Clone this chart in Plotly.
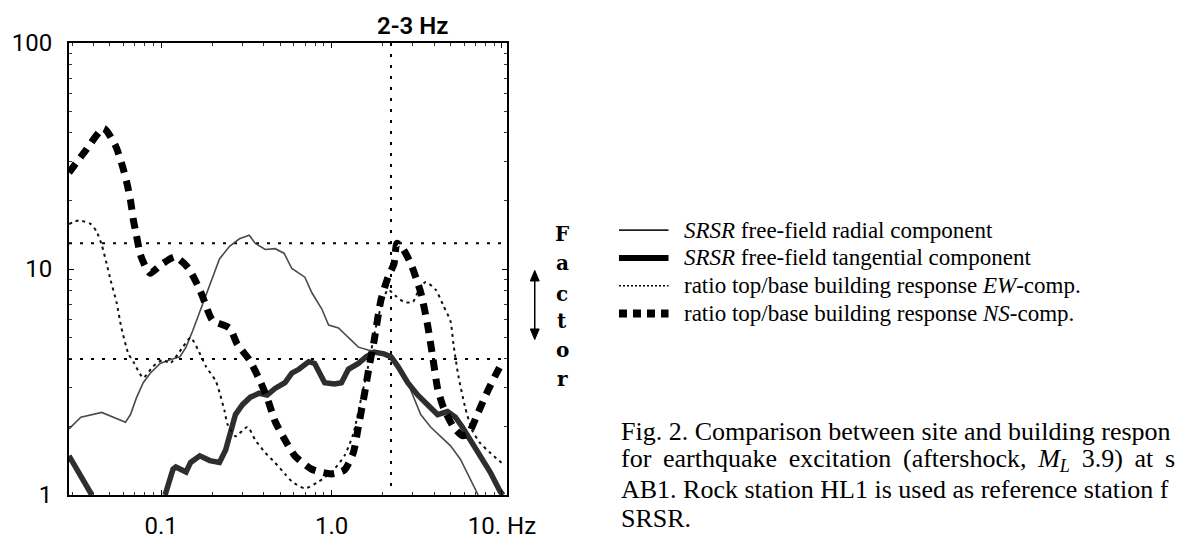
import math
import plotly.graph_objects as go

# Frequency (Hz) / amplitude pairs for the four spectral curves
ns_freq = [0.0288, 0.0361, 0.046, 0.054, 0.0585, 0.0626, 0.0661, 0.0687, 0.0716, 0.0755,
           0.0818, 0.0863, 0.100, 0.1206, 0.1436, 0.1686, 0.180, 0.200, 0.252, 0.280,
           0.329, 0.376, 0.419, 0.466, 0.533, 0.609, 0.765, 1.0, 1.19, 1.342,
           1.436, 1.556, 1.663, 1.778, 1.953, 2.145, 2.324, 2.42, 2.62, 2.918,
           3.336, 3.66, 3.92, 4.19, 4.54, 5.19, 5.85, 6.35, 7.16, 8.18, 9.1, 10.14]
ns_amp = [26.7, 33.5, 41.9, 35.1, 29.5, 24.5, 20.1, 16.5, 14.1, 11.6,
          10.05, 9.57, 10.45, 11.3, 10.15, 8.1, 7.14, 5.93, 5.48, 4.64,
          3.97, 3.26, 2.69, 2.12, 1.75, 1.49, 1.30, 1.24, 1.29, 1.54,
          2.00, 2.77, 3.71, 4.83, 7.35, 9.2, 10.55, 13.0, 12.3, 10.55,
          7.87, 5.65, 4.09, 2.96, 2.43, 2.00, 1.83, 1.87, 2.27, 2.85, 3.36, 3.93]

ew_freq = [0.0288, 0.0329, 0.0387, 0.0419, 0.0448, 0.0479, 0.0505, 0.0547, 0.0585, 0.0643,
           0.0687, 0.0785, 0.0898, 0.1027, 0.1128, 0.134, 0.149, 0.164, 0.183, 0.209,
           0.220, 0.236, 0.245, 0.273, 0.321, 0.357, 0.408, 0.466, 0.533, 0.585,
           0.697, 0.84, 1.0, 1.19, 1.342, 1.494, 1.64, 1.83, 2.01, 2.145,
           2.39, 2.66, 3.0, 3.25, 3.57, 4.08, 4.54, 4.99, 5.19, 5.55,
           6.09, 6.69, 7.45, 8.52, 10.14]
ew_amp = [15.8, 16.4, 15.8, 14.6, 12.8, 10.55, 8.94, 7.14, 5.48, 4.21,
          3.89, 3.30, 3.71, 3.97, 3.82, 4.51, 4.97, 4.42, 3.71, 3.20,
          2.85, 2.34, 2.06, 1.82, 2.00, 1.75, 1.54, 1.39, 1.24, 1.147,
          1.07, 1.147, 1.264, 1.49, 1.87, 2.69, 3.71, 5.65, 7.35, 8.1,
          7.57, 7.14, 7.14, 8.1, 8.76, 8.1, 6.86, 5.87, 4.64, 3.36,
          2.43, 1.93, 1.696, 1.538, 1.37]

radial_freq = [0.0288, 0.0338, 0.0448, 0.0526, 0.0618, 0.0661, 0.0716, 0.0785, 0.0863, 0.0987,
               0.1128, 0.129, 0.140, 0.153, 0.1686, 0.183, 0.200, 0.220, 0.252, 0.288,
               0.329, 0.357, 0.408, 0.466, 0.526, 0.585, 0.697, 0.765, 0.875, 0.961,
               1.098, 1.255, 1.436, 1.64, 1.876, 2.233, 2.553, 2.84, 3.12, 3.336,
               3.81, 4.36, 4.99, 5.7, 6.52, 7.25]
radial_amp = [1.96, 2.21, 2.32, 2.21, 2.10, 2.27, 2.69, 3.14, 3.46, 3.82,
              3.97, 4.09, 4.51, 5.32, 6.47, 7.57, 9.2, 11.08, 12.6, 13.6,
              14.1, 12.97, 12.2, 12.3, 11.75, 10.05, 9.2, 7.87, 6.67, 5.65,
              5.48, 4.97, 4.51, 4.38, 4.29, 4.0, 3.53, 3.05, 2.58, 2.27,
              2.00, 1.82, 1.65, 1.44, 1.18, 1.0]

tangential_freq = [0.0288, 0.0334, 0.0392, None, 0.1055, 0.1174, 0.122, 0.140, 0.149, 0.1686,
                   0.193, 0.220, 0.239, 0.255, 0.273, 0.300, 0.334, 0.376, 0.419, 0.466,
                   0.533, 0.585, 0.643, 0.735, 0.796, 0.911, 1.04, 1.143, 1.255, 1.436,
                   1.597, 1.778, 2.03, 2.233, 2.45, 2.80, 3.20, 3.66, 4.19, 4.79,
                   5.33, 5.85, 6.52, 7.45, 8.52, 9.74, 10.14]
tangential_amp = [1.49, 1.23, 1.0, None, 1.0, 1.30, 1.33, 1.264, 1.394, 1.49,
                  1.42, 1.394, 1.58, 1.93, 2.27, 2.51, 2.71, 2.82, 2.77, 2.96,
                  3.14, 3.46, 3.60, 3.89, 3.82, 3.14, 3.10, 3.14, 3.60, 3.82,
                  4.09, 4.29, 4.21, 4.09, 3.71, 3.14, 2.77, 2.51, 2.27, 2.34,
                  2.21, 2.00, 1.75, 1.49, 1.264, 1.04, 1.0]

# Reference levels and band marker
factor_levels = [13, 4]
band_freq = 2.233

x_ticks = [0.1, 1, 10]
x_tick_text = ["0.1", "1.0", "10. Hz"]
y_ticks = [1, 10, 100]
y_tick_text = ["1", "10", "100"]
x_minor = [0.03, 0.04, 0.05, 0.06, 0.07, 0.08, 0.09, 0.2, 0.3, 0.4, 0.5, 0.6, 0.7, 0.8, 0.9,
           2, 3, 4, 5, 6, 7, 8, 9]
y_minor = [2, 3, 4, 5, 6, 7, 8, 9, 20, 30, 40, 50, 60, 70, 80, 90]

legend_labels = [
    "<i>SRSR</i> free-field radial component",
    "<i>SRSR</i> free-field tangential component",
    "ratio top/base building response <i>EW</i>-comp.",
    "ratio top/base building response <i>NS</i>-comp.",
]
GAP = "\u00a0\u2009"
caption_lines = [
    "Fig. 2. Comparison between site and building respon",
    GAP.join(["for", "earthquake", "excitation", "(aftershock,", "<i>M<sub>L</sub></i>",
              "3.9)", "at", "s"]),
    "AB1. Rock station HL1 is used as reference station f",
    "SRSR.",
]

W, H = 1179, 552
L, R, T, B = 65, 507, 43, 514


def px(x):
    return (x - L) / (R - L)


def py(y):
    return (B - y) / (B - T)


fig = go.Figure()

fig.add_trace(go.Scatter(x=radial_freq, y=radial_amp, mode="lines",
                         line=dict(color="#4a4a4a", width=1.6), showlegend=False))
fig.add_trace(go.Scatter(x=tangential_freq, y=tangential_amp, mode="lines",
                         line=dict(color="#2e2e2e", width=5.5), showlegend=False))
fig.add_trace(go.Scatter(x=ew_freq, y=ew_amp, mode="lines",
                         line=dict(color="#111111", width=2, dash="3px,4px", shape="spline",
                                   smoothing=0.6), showlegend=False))
fig.add_trace(go.Scatter(x=ns_freq, y=ns_amp, mode="lines",
                         line=dict(color="#000000", width=7, dash="11px,8px", shape="spline",
                                   smoothing=0.6), showlegend=False))

shapes = []
for lvl in factor_levels:
    shapes.append(dict(type="line", xref="paper", yref="y", x0=0, x1=1, y0=lvl, y1=lvl,
                       line=dict(color="black", width=2, dash="3px,8px"), layer="below"))
shapes.append(dict(type="line", xref="x", yref="paper", x0=band_freq, x1=band_freq, y0=0.02, y1=1,
                   line=dict(color="black", width=2, dash="3px,8px"), layer="below"))

# double-headed arrow between the two factor levels
ax_px, a_top, a_bot = 535, 280, 352
shapes.append(dict(type="line", xref="paper", yref="paper", x0=px(ax_px), x1=px(ax_px),
                   y0=py(a_top + 6), y1=py(a_bot - 6), line=dict(color="black", width=1.5)))
shapes.append(dict(type="path", xref="paper", yref="paper",
                   path="M %f %f L %f %f L %f %f Z" % (px(ax_px - 4.5), py(a_top + 11), px(ax_px), py(a_top),
                                                       px(ax_px + 4.5), py(a_top + 11)),
                   fillcolor="black", line=dict(color="black", width=1)))
shapes.append(dict(type="path", xref="paper", yref="paper",
                   path="M %f %f L %f %f L %f %f Z" % (px(ax_px - 4.5), py(a_bot - 11), px(ax_px), py(a_bot),
                                                       px(ax_px + 4.5), py(a_bot - 11)),
                   fillcolor="black", line=dict(color="black", width=1)))

# legend samples
row_y = [238, 267, 296, 325]
sample_styles = [
    dict(color="#222", width=1.6),
    dict(color="#000", width=6),
    dict(color="#000", width=1.5, dash="2px,2px"),
    dict(color="#000", width=8, dash="8px,6px"),
]
for yy, st in zip(row_y, sample_styles):
    shapes.append(dict(type="line", xref="paper", yref="paper", x0=px(620), x1=px(670),
                       y0=py(yy), y1=py(yy), line=st))

annotations = []
for yy, txt in zip(row_y, legend_labels):
    annotations.append(dict(xref="paper", yref="paper", x=px(684), y=py(yy), text=txt,
                            showarrow=False, xanchor="left", yanchor="middle",
                            font=dict(family="Liberation Serif", size=23, color="black")))

cap_y = [448, 478, 508, 538]
for yy, txt in zip(cap_y, caption_lines):
    annotations.append(dict(xref="paper", yref="paper", x=px(620), y=py(yy), text=txt,
                            showarrow=False, xanchor="left", yanchor="middle",
                            font=dict(family="Liberation Serif", size=26, color="black")))

annotations.append(dict(xref="paper", yref="paper", x=px(412), y=py(25), text="2-3 Hz",
                        showarrow=False, xanchor="center", yanchor="middle",
                        font=dict(family="Roboto", size=24, color="black", weight=600)))
annotations.append(dict(xref="paper", yref="y", x=px(530), y=factor_levels[0], text="13",
                        showarrow=False, xanchor="center", yanchor="middle",
                        font=dict(family="Roboto", size=24, color="black")))
annotations.append(dict(xref="paper", yref="y", x=px(534), y=factor_levels[1], text="4",
                        showarrow=False, xanchor="center", yanchor="middle",
                        font=dict(family="Roboto", size=24, color="black")))
for ch, yy in zip("Factor", [242, 272, 305, 333, 363, 393]):
    annotations.append(dict(xref="paper", yref="paper", x=px(563), y=py(yy), text="<b>%s</b>" % ch,
                            showarrow=False, xanchor="center", yanchor="middle",
                            font=dict(family="DejaVu Serif", size=20, color="black")))

fig.update_layout(
    width=W, height=H,
    margin=dict(l=L, r=W - R, t=T, b=H - B, pad=0),
    paper_bgcolor="white", plot_bgcolor="white",
    shapes=shapes, annotations=annotations, showlegend=False,
)
fig.update_xaxes(type="log", range=[math.log10(0.0288), math.log10(10.7)],
                 tickmode="array", tickvals=x_ticks, ticktext=x_tick_text,
                 ticks="inside", ticklen=5, tickcolor="black", showgrid=False, zeroline=False,
                 showline=True, linecolor="black", linewidth=2, mirror="allticks",
                 ticklabelstandoff=8,
                 tickfont=dict(family="Roboto", size=24, color="black"),
                 minor=dict(tickmode="array", tickvals=x_minor, ticks="inside", ticklen=3,
                            tickcolor="#333", showgrid=False))
fig.update_yaxes(type="log", range=[0, 2],
                 tickmode="array", tickvals=y_ticks, ticktext=y_tick_text,
                 ticks="inside", ticklen=5, tickcolor="black", showgrid=False, zeroline=False,
                 showline=True, linecolor="black", linewidth=2, mirror="allticks",
                 ticklabelstandoff=10,
                 tickfont=dict(family="Roboto", size=24, color="black"),
                 minor=dict(tickmode="array", tickvals=y_minor, ticks="inside", ticklen=3,
                            tickcolor="#333", showgrid=False))

fig.write_html("out.html")
